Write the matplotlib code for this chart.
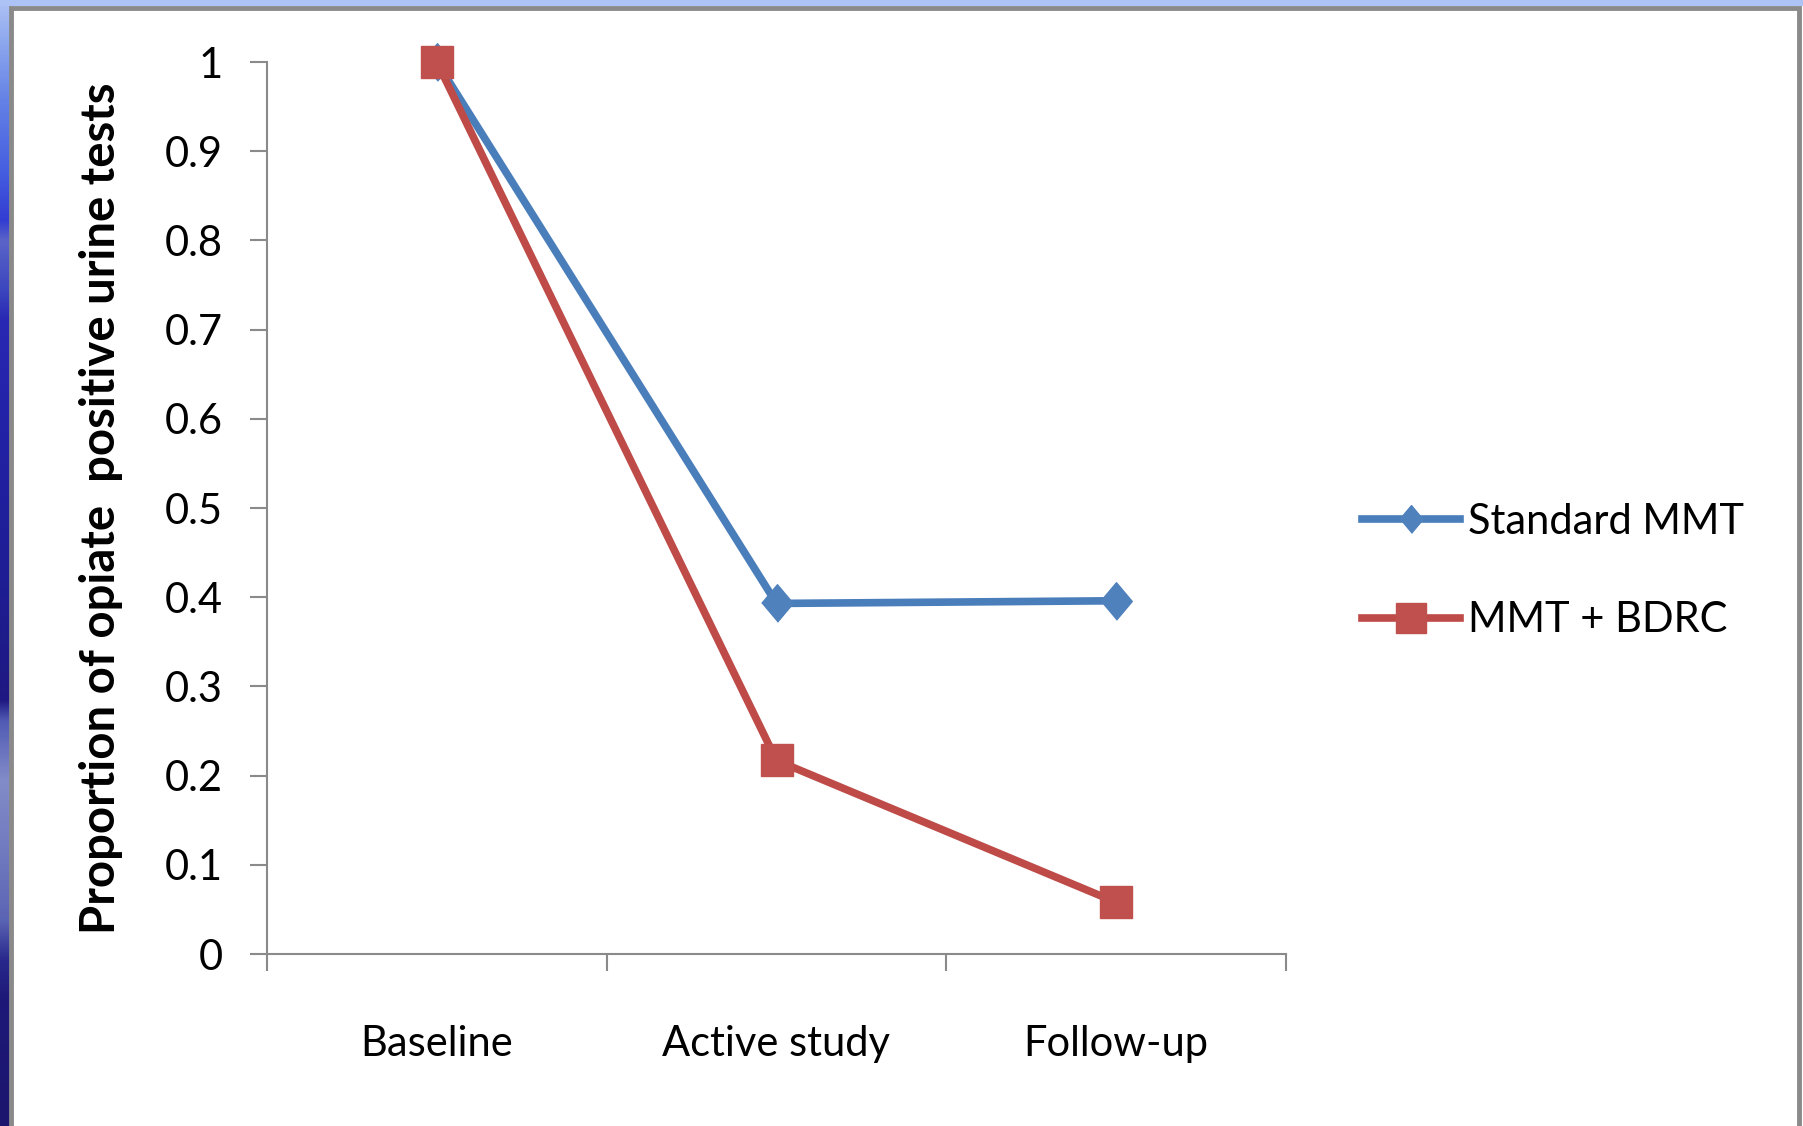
import numpy as np
import matplotlib
matplotlib.use("Agg")
import matplotlib.pyplot as plt
from matplotlib.patches import Rectangle

# ---- data ----
phases = ["Baseline", "Active study", "Follow-up"]
standard_mmt = [1.0, 0.393, 0.396]
mmt_bdrc = [1.0, 0.217, 0.058]
y_ticks = [0, 0.1, 0.2, 0.3, 0.4, 0.5, 0.6, 0.7, 0.8, 0.9, 1]
y_tick_labels = ["0", "0.1", "0.2", "0.3", "0.4", "0.5", "0.6", "0.7", "0.8", "0.9", "1"]

W, H = 1803, 1126
plt.rcParams["font.family"] = ["Lato", "DejaVu Sans"]

fig = plt.figure(figsize=(W / 100, H / 100), dpi=100)

# ---- slide background: blue gradient edge and a white framed panel ----
bg = fig.add_axes([0, 0, 1, 1], zorder=-10)
bg.set_xlim(0, W)
bg.set_ylim(H, 0)
bg.axis("off")

stops = [
    (0, (175, 195, 245)), (30, (150, 175, 240)), (100, (100, 130, 230)),
    (170, (70, 95, 225)), (220, (50, 60, 210)), (240, (90, 100, 200)),
    (290, (60, 70, 190)), (320, (40, 40, 180)), (400, (35, 35, 170)),
    (560, (30, 30, 150)), (700, (30, 25, 130)), (720, (80, 90, 180)),
    (780, (130, 140, 200)), (860, (110, 120, 190)), (920, (90, 100, 180)),
    (960, (40, 40, 140)), (1000, (30, 25, 120)), (1126, (28, 22, 110)),
]
ys = np.arange(H)
sy = [s[0] for s in stops]
grad = np.stack([np.interp(ys, sy, [s[1][c] for s in stops]) for c in range(3)], axis=-1) / 255.0
bg.imshow(grad[:, None, :], extent=(0, 14, H, 0), aspect="auto", interpolation="bilinear")
bg.add_patch(Rectangle((0, 0), W, 6, facecolor=(0.68, 0.76, 0.96), edgecolor="none"))
bg.add_patch(Rectangle((11, 8), 1788, 1130, facecolor="white", edgecolor="#8a8a8a", linewidth=3.5))

# ---- chart ----
ax = fig.add_axes([267 / W, 1 - 954 / H, (1286 - 267) / W, (954 - 62) / H])
ax.set_facecolor("none")
x = np.arange(len(phases)) + 0.5

ax.plot(x, standard_mmt, color="#4A7EBB", linewidth=5.5, zorder=3, clip_on=False,
        marker=[(-0.42, 0), (0, 0.5), (0.42, 0), (0, -0.5)], markersize=27,
        markerfacecolor="#4F81BD", markeredgecolor="#4F81BD", label="Standard MMT")
ax.plot(x, mmt_bdrc, color="#BE4B48", linewidth=5.5, zorder=4, clip_on=False,
        marker="s", markersize=23, markerfacecolor="#C0504D",
        markeredgecolor="#C0504D", label="MMT + BDRC")

ax.set_xlim(0, len(phases))
ax.set_ylim(0, 1)
for side in ("top", "right"):
    ax.spines[side].set_visible(False)
for side in ("left", "bottom"):
    ax.spines[side].set_color("#8a8a8a")
    ax.spines[side].set_linewidth(1.5)

ax.set_yticks(y_ticks)
ax.set_yticklabels(y_tick_labels)
ax.tick_params(axis="y", direction="out", length=12, width=1.5, color="#8a8a8a",
               labelsize=30, pad=20, labelcolor="black")

ax.set_xticks(np.arange(len(phases) + 1))
ax.set_xticklabels([])
ax.tick_params(axis="x", which="major", direction="out", length=12, width=1.5, color="#8a8a8a")
ax.set_xticks(x, minor=True)
ax.set_xticklabels(phases, minor=True)
ax.tick_params(axis="x", which="minor", length=0, labelsize=30, pad=51, labelcolor="black")

ax.set_ylabel("Proportion of opiate  positive urine tests", fontsize=34, fontweight="bold")
ax.yaxis.set_label_coords(-0.141, 0.5)

leg = ax.legend(loc="center left", bbox_to_anchor=(1362 / W, 1 - 571 / H),
                bbox_transform=fig.transFigure, frameon=False, fontsize=30,
                handlelength=2.35, handletextpad=0.2, labelspacing=1.45,
                borderpad=0, borderaxespad=0)
for h, ms in zip(leg.legend_handles, (20, 21)):
    h.set_markersize(ms)

fig.savefig("out.png", dpi=100)
